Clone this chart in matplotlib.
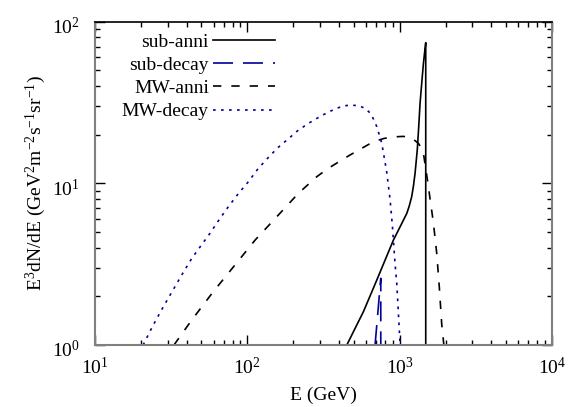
import numpy as np
import matplotlib
matplotlib.use("Agg")
import matplotlib.pyplot as plt
import matplotlib.transforms as mtransforms
from matplotlib.ticker import LogLocator, LogFormatterMathtext, NullFormatter

plt.rcParams['font.family'] = ['Liberation Serif', 'DejaVu Serif']
plt.rcParams['mathtext.fontset'] = 'custom'
plt.rcParams['mathtext.rm'] = 'Liberation Serif'
plt.rcParams['mathtext.it'] = 'Liberation Serif:italic'
plt.rcParams['mathtext.default'] = 'regular'

# ---- data ----
mw_decay_E = [20.7, 24.0, 28.1, 33.5, 38.02, 43.2, 50.12, 56.9, 65.31, 75.0, 87.10, 101.6,
              117.5, 137.4, 158.5, 185.8, 213.8, 251.2, 309.0, 376.7, 426.6, 472.1, 535.8,
              592.9, 631.0, 656.1, 707.9, 762.1, 822.2, 865.0, 895.4, 933.3, 957.1, 1007]
mw_decay_Y = [1.0, 1.318, 1.726, 2.296, 2.818, 3.436, 4.169, 4.909, 5.957, 7.161, 8.610, 10.23,
              12.30, 14.45, 16.60, 18.84, 21.13, 23.44, 26.30, 28.84, 30.06, 30.48, 30.20,
              29.11, 27.54, 26.30, 22.39, 17.78, 11.75, 7.943, 5.495, 3.162, 2.399, 1.0]

mw_anni_E = [33.0, 43.2, 59.8, 83.0, 112.5, 156.0, 216.3, 285.8, 340.4, 472.1, 671.4, 794.3,
             957.1, 1047, 1114, 1230, 1327, 1396, 1432, 1545, 1585, 1663, 1750, 1820, 1888, 1950]
mw_anni_Y = [1.0, 1.429, 2.138, 3.126, 4.457, 6.209, 8.670, 10.99, 12.39, 14.96, 18.07, 18.97,
             19.41, 19.50, 19.41, 18.71, 17.66, 16.41, 15.35, 9.528, 7.943, 5.754, 3.715, 2.291,
             1.349, 1.0]

sub_anni_E = [449.8, 578.1, 707.9, 909.9, 957.1, 1114, 1156, 1199, 1230, 1262, 1282, 1306,
              1334, 1361, 1396, 1432, 1462, 1483, 1483]
sub_anni_Y = [1.0, 1.607, 2.523, 4.457, 4.898, 6.516, 7.24, 8.26, 9.55, 11.53, 13.49, 16.26,
              22.39, 31.26, 41.69, 55.21, 66.07, 74.1, 0.5]

sub_decay_E = [689.6, 751.6, 751.6]
sub_decay_Y = [1.0, 2.585, 0.5]

labels = ['sub-anni', 'sub-decay', 'MW-anni', 'MW-decay']
xticks = [10, 100, 1000, 10000]
yticks = [1, 10, 100]

blue = '#00009a'
W, H = 581, 407
fig = plt.figure(figsize=(W / 100, H / 100), dpi=100)
ax = fig.add_axes([95 / W, 1 - 345 / H, (552 - 95) / W, (345 - 21.6) / H])

ax.plot(sub_anni_E, sub_anni_Y, color='black', lw=1.2, label=labels[0])
ax.plot(sub_decay_E, sub_decay_Y, color=blue, lw=1.2, dashes=(12, 6), label=labels[1])
ax.plot(mw_anni_E, mw_anni_Y, color='black', lw=1.2, dashes=(5, 6), label=labels[2])
ax.plot(mw_decay_E, mw_decay_Y, color=blue, lw=1.2, dashes=(1.6, 3.2), label=labels[3])

ax.set_xscale('log')
ax.set_yscale('log')
ax.set_xlim(10, 10000)
ax.set_ylim(1, 100)
ax.set_xticks(xticks)
ax.set_yticks(yticks)
ax.xaxis.set_major_formatter(LogFormatterMathtext())
ax.yaxis.set_major_formatter(LogFormatterMathtext())
ax.xaxis.set_minor_locator(LogLocator(base=10, subs=np.arange(2, 10), numticks=20))
ax.yaxis.set_minor_locator(LogLocator(base=10, subs=np.arange(2, 10), numticks=20))
ax.xaxis.set_minor_formatter(NullFormatter())
ax.yaxis.set_minor_formatter(NullFormatter())

ax.tick_params(which='both', direction='in', top=True, right=True, colors='black',
               labelsize=14, width=1.0)
ax.tick_params(which='major', length=7)
ax.tick_params(which='minor', length=3.5)
ax.tick_params(axis='x', which='major', pad=8.5)
ax.tick_params(axis='y', which='major', pad=11)

# shift y tick labels slightly down (as in the reference)
offset = mtransforms.ScaledTranslation(0, -4 / 100, fig.dpi_scale_trans)
for lbl in ax.get_yticklabels():
    lbl.set_transform(lbl.get_transform() + offset)

for s in ['left', 'bottom', 'right']:
    ax.spines[s].set_color('#808080')
    ax.spines[s].set_linewidth(1.5)
ax.spines['top'].set_color('black')
ax.spines['top'].set_linewidth(1.2)

ax.set_xlabel('E (GeV)', fontsize=14, labelpad=6)
ax.set_ylabel(r'E$^3$dN/dE (GeV$^2$m$^{-2}$s$^{-1}$sr$^{-1}$)', fontsize=14, labelpad=3)

leg = ax.legend(loc='upper right', bbox_to_anchor=(275 / W, 1 - 33 / H),
                bbox_transform=fig.transFigure, frameon=False, markerfirst=False,
                fontsize=14, handlelength=3.2, handletextpad=0.2, labelspacing=0.29,
                borderpad=0, borderaxespad=0)

fig.savefig('out.png', dpi=100)
